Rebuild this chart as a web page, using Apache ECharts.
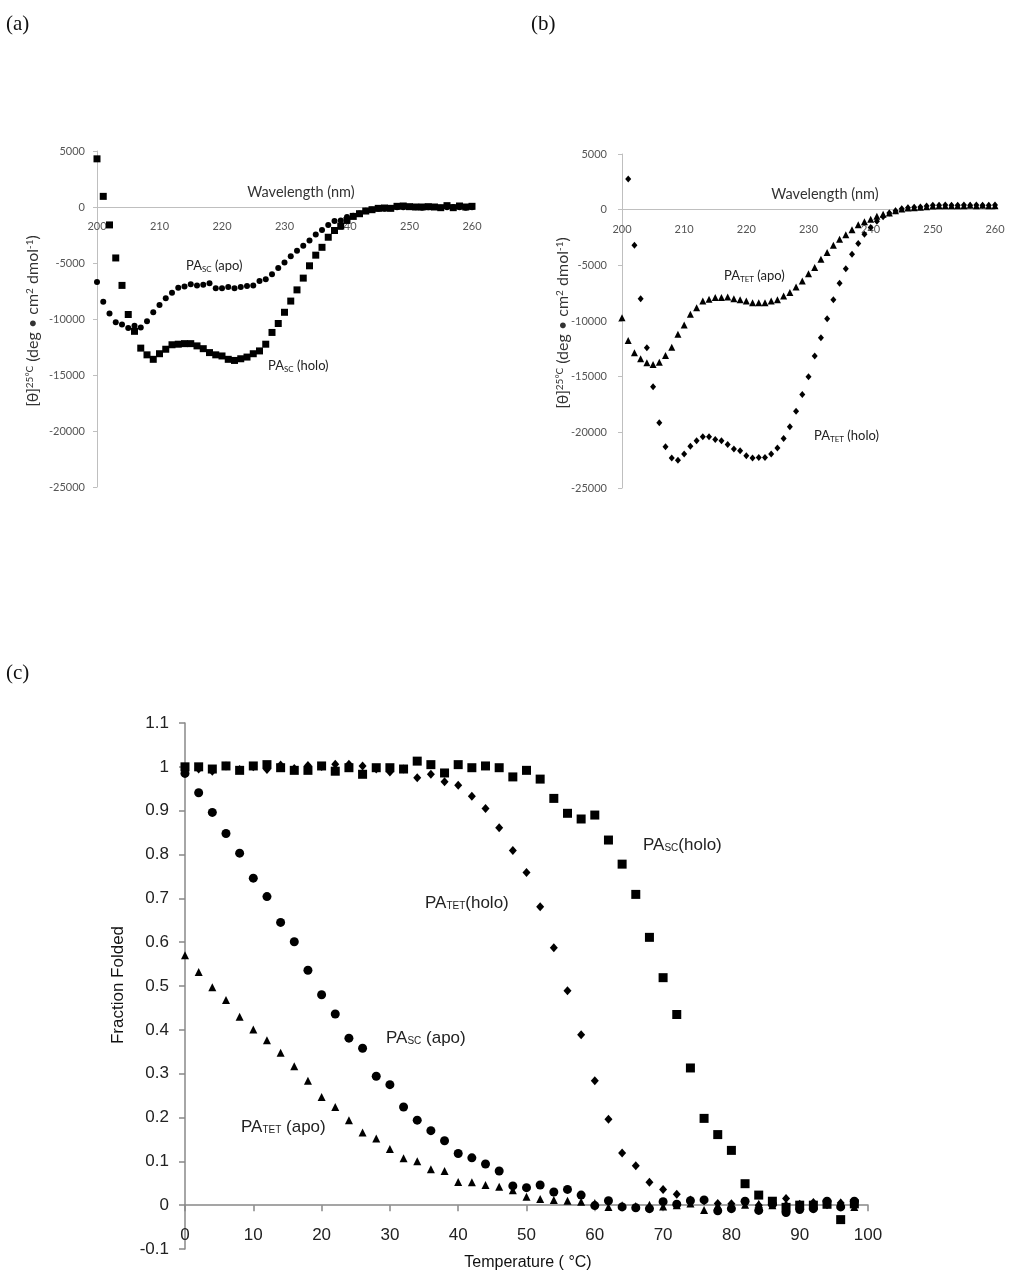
<!DOCTYPE html>
<html><head><meta charset="utf-8">
<script src="https://cdn.jsdelivr.net/npm/echarts@6/dist/echarts.min.js"></script>
<style>html,body{margin:0;padding:0;background:#fff}#c{width:1025px;height:1285px}</style>
</head><body><div id="c"></div><script>
// ---- Panel (a) and (b): CD spectra, wavelength (nm) ----
const wavelengths = [200,201,202,203,204,205,206,207,208,209,210,211,212,213,214,215,216,217,218,219,220,221,222,223,224,225,226,227,228,229,230,231,232,233,234,235,236,237,238,239,240,241,242,243,244,245,246,247,248,249,250,251,252,253,254,255,256,257,258,259,260];
const aHolo = [4300,950,-1600,-4550,-7000,-9600,-11100,-12600,-13200,-13600,-13100,-12700,-12300,-12250,-12200,-12200,-12400,-12650,-13000,-13200,-13300,-13600,-13700,-13550,-13400,-13100,-12850,-12250,-11200,-10400,-9400,-8400,-7400,-6350,-5250,-4300,-3600,-2700,-2100,-1700,-1200,-840,-600,-360,-240,-120,-90,-120,60,90,30,0,0,30,0,-60,120,-60,90,0,60];
const aApo = [-6700,-8450,-9500,-10300,-10500,-10800,-10600,-10750,-10200,-9400,-8750,-8150,-7650,-7200,-7100,-6900,-7000,-6950,-6800,-7250,-7250,-7150,-7250,-7150,-7050,-7000,-6600,-6450,-6000,-5450,-4950,-4400,-3900,-3450,-3000,-2450,-2050,-1600,-1250,-1200,-900,-780,-570,-330,-240,-150,-150,-120,-30,-30,0,-30,-60,-30,0,-60,-30,0,-30,-60,-30];
const bHolo = [null,2750,-3200,-8000,-12400,-15900,-19150,-21300,-22300,-22500,-21950,-21250,-20750,-20400,-20400,-20650,-20750,-21100,-21500,-21650,-22100,-22300,-22250,-22250,-21950,-21400,-20550,-19500,-18100,-16600,-15000,-13150,-11500,-9800,-8100,-6600,-5300,-4000,-3050,-2200,-1600,-1050,-630,-300,-90,90,180,210,240,330,390,390,420,390,390,420,390,420,390,390,420];
const bApo = [-9700,-11750,-12850,-13400,-13750,-13900,-13700,-13100,-12350,-11200,-10350,-9400,-8800,-8200,-8050,-7900,-7900,-7850,-8000,-8100,-8200,-8350,-8350,-8350,-8200,-8100,-7750,-7450,-6950,-6400,-5750,-5200,-4450,-3850,-3200,-2650,-2250,-1800,-1350,-1080,-870,-600,-420,-300,-90,60,150,180,210,270,330,360,360,360,360,360,390,360,390,360,360];

// ---- Panel (c): thermal denaturation ----
const temps = [0,2,4,6,8,10,12,14,16,18,20,22,24,26,28,30,32,34,36,38,40,42,44,46,48,50,52,54,56,58,60,62,64,66,68,70,72,74,76,78,80,82,84,86,88,90,92,94,96,98];
const cScHolo = [1.0,1.0,0.995,1.002,0.992,1.002,1.005,0.998,0.992,0.992,1.002,0.99,0.998,0.983,0.998,0.998,0.995,1.013,1.005,0.986,1.005,0.998,1.002,0.998,0.977,0.992,0.972,0.928,0.894,0.881,0.890,0.833,0.778,0.709,0.611,0.519,0.435,0.313,0.198,0.161,0.125,0.049,0.023,0.009,-0.005,0.0,0.0,0.002,-0.033,0.003];
const cTetHolo = [0.996,0.995,0.99,1.002,0.994,1.0,0.994,1.004,0.996,1.003,1.001,1.006,1.006,1.002,0.995,0.988,0.995,0.975,0.983,0.966,0.958,0.933,0.905,0.861,0.809,0.759,0.681,0.587,0.489,0.389,0.284,0.196,0.119,0.090,0.052,0.036,0.025,0.012,0.010,0.004,0.003,0.006,0.0,0.004,0.015,0.002,0.006,0.001,0.005,0.0];
const cScApo = [0.985,0.941,0.896,0.848,0.803,0.746,0.704,0.645,0.601,0.536,0.480,0.436,0.381,0.358,0.294,0.275,0.224,0.194,0.170,0.147,0.118,0.108,0.094,0.078,0.044,0.040,0.046,0.030,0.036,0.023,-0.001,0.010,-0.004,-0.006,-0.008,0.008,0.002,0.010,0.012,-0.013,-0.008,0.009,-0.012,0.002,-0.017,-0.010,-0.008,0.009,-0.004,0.009];
const cTetApo = [0.570,0.532,0.497,0.468,0.430,0.401,0.376,0.348,0.317,0.284,0.247,0.224,0.194,0.166,0.152,0.128,0.107,0.100,0.082,0.078,0.053,0.052,0.046,0.042,0.034,0.019,0.014,0.012,0.010,0.008,0.005,-0.004,0.0,-0.002,0.001,-0.003,0.0,0.004,-0.011,0.0,0.002,0.001,0.003,0.0,0.004,0.002,0.0,0.003,0.006,-0.004];

function pairs(xs, ys){ const out=[]; xs.forEach((x,i)=>{ if(ys[i]!=null) out.push([x, ys[i]]); }); return out; }

const chart = echarts.init(document.getElementById('c'), null, {renderer:'canvas'});
const cdFont = 'Lato, "Open Sans", sans-serif';
const arial = '"Liberation Sans", Arial, sans-serif';
const serif = '"Liberation Serif", "Times New Roman", serif';
const lightAxis = {lineStyle:{color:'#bfbfbf', width:1}};

const grids = [
  {left:97, top:151, width:375, height:336},
  {left:622, top:154, width:373, height:334},
  {left:185, top:723, width:683, height:526}
];
// offset that places a bottom x axis at y = 0 of its value axis
function zeroOffset(g, ymin, ymax){ return -g.height * (0 - ymin) / (ymax - ymin); }

function cdX(gi){
  return {type:'value', gridIndex:gi, min:200, max:260, interval:10, position:'bottom',
    offset: zeroOffset(grids[gi], -25000, 5000),
    axisLine:Object.assign({onZero:false}, lightAxis), axisTick:{show:false},
    axisLabel:{fontFamily:cdFont, fontSize:11, color:'#555', margin:14}, splitLine:{show:false}};
}
function cdY(gi, margin){
  return {type:'value', gridIndex:gi, min:-25000, max:5000, interval:5000,
    axisLine:Object.assign({show:true, onZero:false}, lightAxis), axisTick:{show:true, length:4, lineStyle:{color:'#bfbfbf'}},
    axisLabel:{fontFamily:cdFont, fontSize:11, color:'#555', margin:margin, formatter:v=>String(v)}, splitLine:{show:false}};
}

function label(x, y, text, fs, subFs, fam){
  return {type:'text', x:x, y:y, z:100, style:{text:text, fontSize:fs, fontFamily:fam, fill:'#222', verticalAlign:'middle', align:'left',
    rich:{sub:{fontSize:subFs, fontFamily:fam, fill:'#222', verticalAlign:'bottom', padding:[6,0,0,0]},
          n:{fontSize:fs, fontFamily:fam, fill:'#222'}}}};
}
const yNameCD = '{n|[θ]}{sup|25°C}{n| (deg • cm}{sup|2}{n| dmol}{sup|-1}{n|)}';
function yName(x, y){
  return {type:'text', x:x, y:y, rotation:Math.PI/2, style:{text:yNameCD, fontSize:16, fontFamily:cdFont, fill:'#333', align:'center', verticalAlign:'middle',
    rich:{n:{fontSize:16, fontFamily:cdFont, fill:'#333'}, sup:{fontSize:10, fontFamily:cdFont, fill:'#333', verticalAlign:'top', padding:[0,0,7,0]}}}};
}
const mark = {color:'#000', opacity:1};

const option = {
  animation:false,
  backgroundColor:'#fff',
  grid: grids,
  xAxis:[
    cdX(0), cdX(1),
    {type:'value', gridIndex:2, min:0, max:100, interval:10, position:'bottom',
      offset: zeroOffset(grids[2], -0.1, 1.1),
      axisLine:{onZero:false, lineStyle:{color:'#888', width:1.5}}, axisTick:{show:true, length:6, lineStyle:{color:'#888', width:1.5}},
      axisLabel:{fontFamily:arial, fontSize:17, color:'#222', margin:22}, splitLine:{show:false}}
  ],
  yAxis:[
    cdY(0, 12), cdY(1, 15),
    {type:'value', gridIndex:2, min:-0.1, max:1.1, interval:0.1,
      axisLine:{show:true, onZero:false, lineStyle:{color:'#888', width:1.5}}, axisTick:{show:true, length:6, lineStyle:{color:'#888', width:1.5}},
      axisLabel:{fontFamily:arial, fontSize:17, color:'#222', margin:16, formatter:v=>String(Number(v.toFixed(1)))}, splitLine:{show:false}}
  ],
  series:[
    {type:'scatter', xAxisIndex:0, yAxisIndex:0, symbol:'rect', symbolSize:7, itemStyle:mark, data:pairs(wavelengths, aHolo)},
    {type:'scatter', xAxisIndex:0, yAxisIndex:0, symbol:'circle', symbolSize:6, itemStyle:mark, data:pairs(wavelengths, aApo)},
    {type:'scatter', xAxisIndex:1, yAxisIndex:1, symbol:'diamond', symbolSize:[6,7], itemStyle:mark, data:pairs(wavelengths, bHolo)},
    {type:'scatter', xAxisIndex:1, yAxisIndex:1, symbol:'triangle', symbolSize:7, itemStyle:mark, data:pairs(wavelengths, bApo)},
    {type:'scatter', xAxisIndex:2, yAxisIndex:2, symbol:'rect', symbolSize:9, itemStyle:mark, data:pairs(temps, cScHolo)},
    {type:'scatter', xAxisIndex:2, yAxisIndex:2, symbol:'diamond', symbolSize:[8,9], itemStyle:mark, data:pairs(temps, cTetHolo)},
    {type:'scatter', xAxisIndex:2, yAxisIndex:2, symbol:'circle', symbolSize:9, itemStyle:mark, data:pairs(temps, cScApo)},
    {type:'scatter', xAxisIndex:2, yAxisIndex:2, symbol:'triangle', symbolSize:8, itemStyle:mark, data:pairs(temps, cTetApo)}
  ],
  graphic:[
    {type:'text', x:6, y:24, style:{text:'(a)', fontSize:21, fontFamily:serif, fill:'#111', verticalAlign:'middle'}},
    {type:'text', x:531, y:24, style:{text:'(b)', fontSize:21, fontFamily:serif, fill:'#111', verticalAlign:'middle'}},
    {type:'text', x:6, y:673, style:{text:'(c)', fontSize:21, fontFamily:serif, fill:'#111', verticalAlign:'middle'}},
    // panel a texts
    {type:'text', x:301, y:192, style:{text:'Wavelength (nm)', fontSize:14.5, fontFamily:cdFont, fill:'#333', align:'center', verticalAlign:'middle'}},
    yName(33, 321),
    label(186, 266, 'PA{sub|SC} (apo)', 13, 8, cdFont),
    label(268, 366, 'PA{sub|SC} (holo)', 13, 8, cdFont),
    // panel b texts
    {type:'text', x:825, y:194, style:{text:'Wavelength (nm)', fontSize:14.5, fontFamily:cdFont, fill:'#333', align:'center', verticalAlign:'middle'}},
    yName(563, 323),
    label(724, 276, 'PA{sub|TET} (apo)', 13, 8, cdFont),
    label(814, 436, 'PA{sub|TET} (holo)', 13, 8, cdFont),
    // panel c texts
    {type:'text', x:528, y:1263, style:{text:'Temperature ( °C)', fontSize:16, fontFamily:arial, fill:'#111', align:'center', verticalAlign:'middle'}},
    {type:'text', x:118, y:985, rotation:Math.PI/2, style:{text:'Fraction Folded', fontSize:17, fontFamily:arial, fill:'#111', align:'center', verticalAlign:'middle'}},
    label(643, 845, 'PA{sub|SC}(holo)', 17, 10, arial),
    label(425, 903, 'PA{sub|TET}(holo)', 17, 10, arial),
    label(386, 1038, 'PA{sub|SC} (apo)', 17, 10, arial),
    label(241, 1127, 'PA{sub|TET} (apo)', 17, 10, arial)
  ]
};
chart.setOption(option);
</script></body></html>
